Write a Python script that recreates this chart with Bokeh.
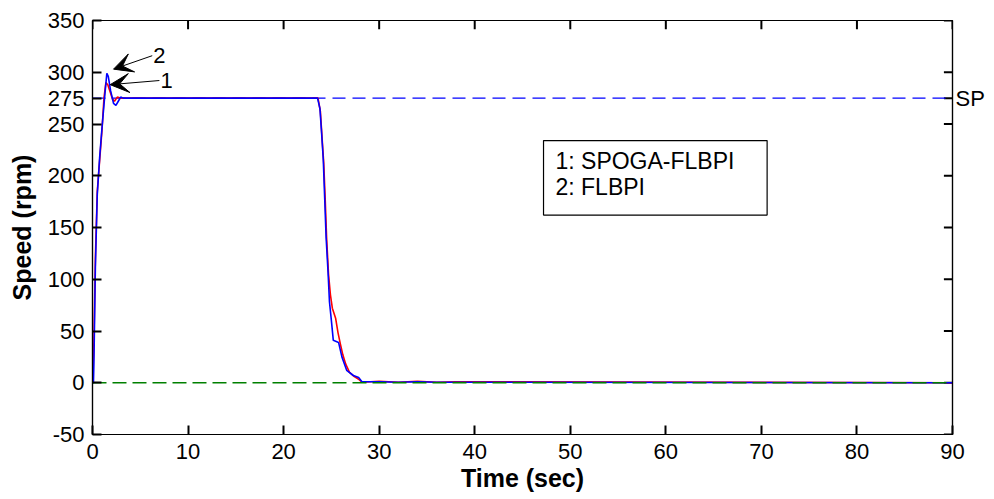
from bokeh.plotting import figure
from bokeh.models import (LinearAxis, FixedTicker, Label, Arrow, VeeHead,
                          BoxAnnotation, Range1d)
from bokeh.embed import file_html
from bokeh.resources import INLINE

# ---------------- data ----------------
x_ticks = [0, 10, 20, 30, 40, 50, 60, 70, 80, 90]
y_ticks = [-50, 0, 50, 100, 150, 200, 250, 275, 300, 350]

setpoint = 275
sp_t = [0, 90]
sp_v = [275, 275]
zero_t = [0, 90]
zero_v = [0, 0]

# FLBPI (2) - blue
flbpi_t = [0, 0.1, 0.15, 0.3, 0.5, 0.75, 1.0, 1.3, 1.5, 1.65, 1.9, 2.2, 2.45,
           2.7, 2.95, 3.2, 3.6, 23.55, 23.8, 23.95, 24.15, 24.3, 24.45, 24.65,
           24.8, 25.0, 25.2, 25.75, 26.1, 26.6, 27.3, 27.85, 28.2, 30, 32, 34,
           36, 38, 90]
flbpi_v = [0, 0, 20, 111, 182, 218, 247, 279, 299, 296, 282, 270, 268,
           272, 276, 275, 275, 275, 265, 245, 216, 178, 140, 107,
           78, 60, 41, 39, 25, 12, 7, 5, 1, 1, 0.5, 1,
           0.5, 0.5, 0]

# SPOGA-FLBPI (1) - red
spoga_t = [0, 0.15, 0.3, 0.5, 0.75, 1.0, 1.2, 1.4, 1.6, 1.85, 2.1, 2.3, 2.6,
           2.9, 3.2, 23.6, 23.85, 24.0, 24.2, 24.35, 24.5, 24.7, 24.9, 25.1,
           25.45, 25.7, 25.95, 26.2, 26.5, 26.9, 27.4, 27.9, 28.2, 30, 32, 34,
           36, 38, 90]
spoga_v = [0, 40, 120, 185, 215, 245, 275, 290, 288, 281, 274, 272, 276,
           275, 275, 275, 262, 240, 212, 178, 140, 105, 85, 72,
           62, 48, 37, 27, 18, 10, 6, 3, 0.5, 1.5, 0.5, 1.5,
           0.5, 1, 0]

legend_lines = ["1: SPOGA-FLBPI", "2: FLBPI"]

# arrows: (start_t, start_v, end_t, end_v) and labels
arrow_labels = ["1", "2"]
arrow_start_t = [7.0, 6.25]
arrow_start_v = [292, 316]
arrow_end_t = [1.85, 2.2]
arrow_end_v = [288, 303]

FONT = "Liberation Sans"
AX = "#000000"
X_MIN, X_MAX, Y_MIN, Y_MAX = 0, 90, -50, 350
TICK_DX = 0.9    # ~8-9 px inward tick length in data units (x)
TICK_DY = 8.5    # ~8-9 px inward tick length in data units (y)

p = figure(frame_width=860, frame_height=414,
           x_range=Range1d(X_MIN, X_MAX), y_range=Range1d(Y_MIN, Y_MAX),
           output_backend="svg", toolbar_location=None,
           min_border_left=92, min_border_right=42,
           min_border_top=20, min_border_bottom=65,
           background_fill_color="white", border_fill_color="white")
p.grid.visible = False
p.outline_line_color = AX
p.outline_line_width = 1.2

# axes
p.xaxis.ticker = FixedTicker(ticks=x_ticks)
p.yaxis.ticker = FixedTicker(ticks=y_ticks)
p.yaxis.major_label_overrides = {-50: "-50"}
for ax in (p.xaxis[0], p.yaxis[0]):
    ax.major_tick_in = 9
    ax.major_tick_out = 0
    ax.major_tick_line_width = 2
    ax.minor_tick_line_color = None
    ax.axis_line_color = AX
    ax.axis_line_width = 1.2
    ax.major_tick_line_color = AX
    ax.major_label_text_font = FONT
    ax.major_label_text_font_size = "22px"
    ax.major_label_text_color = "black"
    ax.axis_label_text_font = FONT
    ax.axis_label_text_font_size = "25px"
    ax.axis_label_text_font_style = "bold"
    ax.axis_label_text_color = "black"

p.xaxis.axis_label = "Time (sec)"
p.yaxis.axis_label = "Speed (rpm)"
p.xaxis.major_label_standoff = 9
p.xaxis.axis_label_standoff = 2
p.yaxis.major_label_standoff = 8
p.yaxis.axis_label_standoff = 9

# right axis carries only the "SP" marker label
right = LinearAxis(ticker=FixedTicker(ticks=[setpoint]),
                   major_label_overrides={setpoint: "SP"})
right.major_tick_in = 0
right.major_tick_out = 0
right.minor_tick_line_color = None
right.axis_line_color = AX
right.axis_line_width = 1.2
right.major_label_standoff = 3
right.major_label_text_font = FONT
right.major_label_text_font_size = "22px"
right.major_label_text_color = "black"
p.add_layout(right, "right")

# inward tick marks on the top and right frame edges
p.segment(x0=x_ticks, x1=x_ticks,
          y0=[Y_MAX] * len(x_ticks), y1=[Y_MAX - TICK_DY] * len(x_ticks),
          line_color=AX, line_width=2)
p.segment(x0=[X_MAX] * len(y_ticks), x1=[X_MAX - TICK_DX] * len(y_ticks),
          y0=y_ticks, y1=y_ticks, line_color=AX, line_width=2)

# lines
p.line(sp_t, sp_v, line_color="#0000FF", line_width=1.3, line_dash="13 7")
p.line(spoga_t, spoga_v, line_color="#FF0000", line_width=1.6)
p.line(flbpi_t, flbpi_v, line_color="#0000FF", line_width=1.6)
p.line(zero_t, zero_v, line_color="#008000", line_width=1.3, line_dash="14 6")

# legend box
p.add_layout(BoxAnnotation(left=47.2, right=70.6, bottom=162, top=234,
                           fill_color="white", fill_alpha=1.0,
                           line_color="black", line_alpha=1.0,
                           line_width=1.2))
for i, txt in enumerate(legend_lines):
    p.add_layout(Label(x=48.45, y=213.8 - 25.1 * i, text=txt,
                       text_baseline="middle", text_align="left",
                       text_font=FONT, text_font_size="23px",
                       text_color="black"))

# arrows
for i in range(len(arrow_labels)):
    p.add_layout(Arrow(x_start=arrow_start_t[i], y_start=arrow_start_v[i],
                       x_end=arrow_end_t[i], y_end=arrow_end_v[i],
                       line_color="black", line_width=1,
                       end=VeeHead(size=19, fill_color="black",
                                   line_color="black")))
    p.add_layout(Label(x=arrow_start_t[i], y=arrow_start_v[i], x_offset=1,
                       text=arrow_labels[i], text_baseline="middle",
                       text_align="left", text_font=FONT,
                       text_font_size="22px", text_color="black"))

open("out.html", "w").write(file_html(p, INLINE))
